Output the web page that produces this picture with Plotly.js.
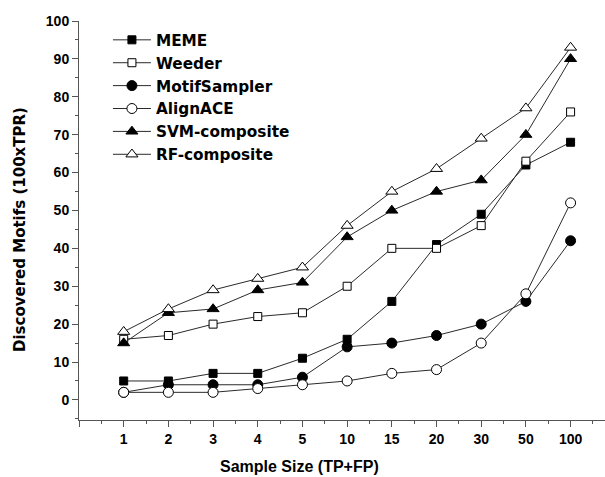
<!DOCTYPE html>
<html><head><meta charset="utf-8">
<script src="https://cdn.plot.ly/plotly-3.0.1.min.js"></script>
<style>html,body{margin:0;padding:0;background:#fff}#chart{width:605px;height:477px}</style>
</head><body><div id="chart"></div>
<script>
const categories = ["1","2","3","4","5","10","15","20","30","50","100"];
const meme = [5,5,7,7,11,16,26,41,49,62,68];
const weeder = [16,17,20,22,23,30,40,40,46,63,76];
const motifSampler = [2,4,4,4,6,14,15,17,20,26,42];
const alignACE = [2,2,2,3,4,5,7,8,15,28,52];
const svmComposite = [15,23,24,29,31,43,50,55,58,70,90];
const rfComposite = [18,24,29,32,35,46,55,61,69,77,93];
const yTicks = [0,10,20,30,40,50,60,70,80,90,100];

const xPos = categories.map((_, i) => i + 1);
const lineCol = '#2a2a2a';
function tr(name, y, symbol, fill, size) {
  return {
    x: xPos, y: y, name: name, type: 'scatter', mode: 'lines+markers',
    line: {color: lineCol, width: 1},
    marker: {symbol: symbol, size: size, color: fill, line: {color: '#000', width: 1}}
  };
}
const data = [
  tr('MEME', meme, 'square', '#000', 8),
  tr('Weeder', weeder, 'square', '#fff', 8),
  tr('MotifSampler', motifSampler, 'circle', '#000', 10),
  tr('AlignACE', alignACE, 'circle', '#fff', 10),
  tr('SVM-composite', svmComposite, 'triangle-up', '#000', 10.5),
  tr('RF-composite', rfComposite, 'triangle-up', '#fff', 10.5)
];
const minorX = xPos.map(v => v - 0.5).concat([xPos[xPos.length - 1] + 0.5]);
const plotW = 526, plotH = 399;
const layout = {
  width: 605, height: 477,
  margin: {l: 79, r: 0, t: 21, b: 57},
  paper_bgcolor: '#fff', plot_bgcolor: '#fff',
  showlegend: true,
  legend: {
    x: 0.055, y: 0.994, xanchor: 'left', yanchor: 'top',
    bgcolor: 'rgba(0,0,0,0)', borderwidth: 0, itemwidth: 38,
    font: {family: 'DejaVu Sans', size: 15.3, color: '#000', weight: 'bold'}
  },
  xaxis: {
    range: [0, 11.77], showgrid: false, zeroline: false,
    showline: true, linecolor: '#555', linewidth: 1,
    tickmode: 'array', tickvals: [0].concat(xPos), ticktext: [''].concat(categories),
    ticks: 'outside', ticklen: 6, tickcolor: '#555', tickwidth: 1,
    minor: {tickmode: 'array', tickvals: minorX, ticks: 'outside', ticklen: 3, tickcolor: '#555', showgrid: false},
    tickfont: {family: 'Liberation Sans', size: 14, color: '#000', weight: 'bold'}
  },
  yaxis: {
    range: [-5.3, 100], showgrid: false, zeroline: false,
    showline: true, linecolor: '#555', linewidth: 1,
    tickmode: 'array', tickvals: yTicks,
    ticks: 'outside', ticklen: 6, tickcolor: '#555', tickwidth: 1,
    minor: {dtick: 5, tick0: -5, ticks: 'outside', ticklen: 3, tickcolor: '#555', showgrid: false},
    tickfont: {family: 'Liberation Sans', size: 14, color: '#000', weight: 'bold'}
  },
  annotations: [{
    text: 'Sample Size (TP+FP)', xref: 'paper', yref: 'paper',
    x: (299 - 79) / plotW, y: -(466 - 420) / plotH, xanchor: 'center', yanchor: 'middle', showarrow: false,
    font: {family: 'Liberation Sans', size: 16, color: '#000', weight: 'bold'}
  }, {
    text: 'Discovered Motifs (100xTPR)', xref: 'paper', yref: 'paper', textangle: -90,
    x: (20 - 79) / plotW, y: (420 - 230) / plotH, xanchor: 'center', yanchor: 'middle', showarrow: false,
    font: {family: 'DejaVu Sans', size: 15, color: '#000', weight: 'bold'}
  }]
};
Plotly.newPlot('chart', data, layout, {displayModeBar: false, staticPlot: true});
</script></body></html>
